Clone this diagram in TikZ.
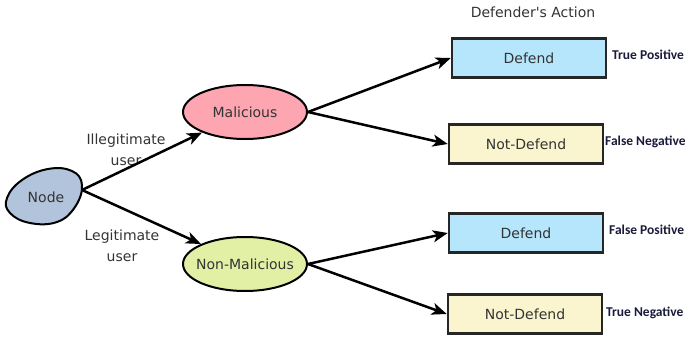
\documentclass[tikz,border=0pt]{standalone}
\usepackage{fontspec}
\setmainfont{DejaVu Sans}
\newfontfamily\labfont{Carlito}
\usetikzlibrary{arrows.meta,shapes.geometric}
\definecolor{txt}{HTML}{333333}
\definecolor{labc}{HTML}{1A1A3A}
\definecolor{defblue}{HTML}{B5E6FB}
\definecolor{ndyel}{HTML}{FAF5CF}
\definecolor{malpink}{HTML}{FDA6B2}
\definecolor{nmgreen}{HTML}{E2F0A6}
\definecolor{nodeblue}{HTML}{B2C3DC}
\tikzset{
  every node/.style={text=txt, font=\fontsize{14}{16}\selectfont},
  oval/.style={ellipse, draw=black, line width=2pt, minimum width=124pt, minimum height=54pt, inner sep=0pt},
  actbox/.style={rectangle, draw=black!85, line width=2.5pt, minimum width=154pt, minimum height=39pt, inner sep=0pt},
  outlab/.style={anchor=west, inner sep=0pt, text=labc, font=\labfont\bfseries\fontsize{13.5}{15}\selectfont},
  edgelab/.style={align=center, inner sep=0pt, font=\fontsize{14}{21}\selectfont},
  arr/.style={line width=2.5pt, draw=black, -{Stealth[length=15pt,width=12pt,inset=4pt]}}
}
\begin{document}
\begin{tikzpicture}[x=1pt,y=-1pt]
\useasboundingbox (0,0) rectangle (691,337);
% blob
\draw[line width=2pt, fill=nodeblue] plot[smooth cycle, tension=0.7] coordinates
  {(7,198) (22,180) (48,169) (72,171) (82,185) (75,207) (57,222) (30,223) (10,213)};
\node (nodeN) at (46,197) {Node};
\coordinate (nodeout) at (82,190);
% ellipses
\node[oval, fill=malpink] (mal) at (245,112) {\makebox[0pt]{Malicious}};
\node[oval, fill=nmgreen] (nmal) at (245,264) {\makebox[0pt]{Non-Malicious}};
% boxes
\node[actbox, fill=defblue] (d1) at (529,58) {Defend};
\node[actbox, fill=ndyel] (n1) at (526,144) {Not-Defend};
\node[actbox, fill=defblue] (d2) at (526,233) {Defend};
\node[actbox, fill=ndyel] (n2) at (525,314) {Not-Defend};
% title
\node (title) at (533,12) {Defender\textquotesingle s Action};
% outcome labels
\node[outlab] (tp) at (612,55) {True Positive};
\node[outlab] (fn) at (605,142) {False Negative};
\node[outlab] (fp) at (609,230) {False Positive};
\node[outlab] (tn) at (606,313) {True Negative};
% edge labels
\node[edgelab] (ill) at (126,150) {Illegitimate\\user};
\node[edgelab] (leg) at (122,246) {Legitimate\\user};
% arrows
\draw[arr] (nodeout) -- (mal);
\draw[arr] (nodeout) -- (nmal);
\draw[arr] (mal.east) -- (d1.west);
\draw[arr] (mal.east) -- (n1.west);
\draw[arr] (nmal.east) -- (d2.west);
\draw[arr] (nmal.east) -- (n2.west);
\end{tikzpicture}
\end{document}
